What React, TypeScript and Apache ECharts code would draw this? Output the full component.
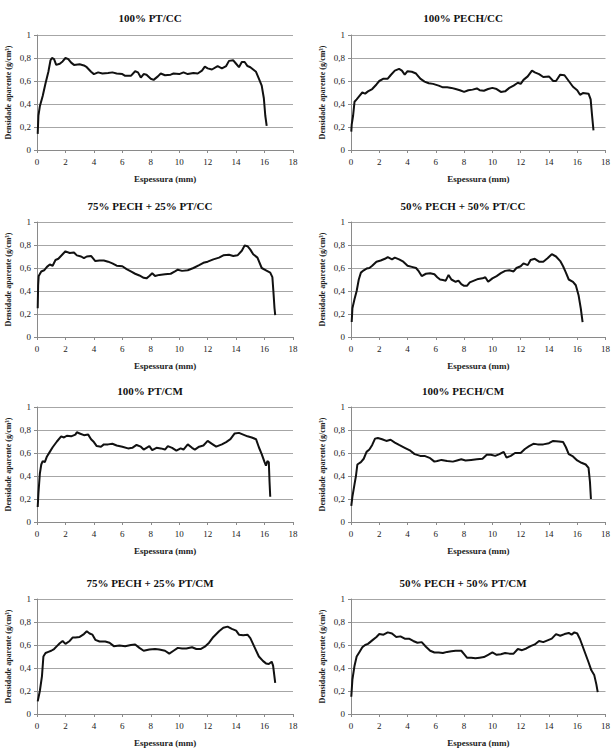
import React, { useEffect, useRef } from "react";
import * as echarts from "echarts";

const titles = [
  "100% PT/CC",
  "100% PECH/CC",
  "75% PECH + 25% PT/CC",
  "50% PECH + 50% PT/CC",
  "100% PT/CM",
  "100% PECH/CM",
  "75% PECH + 25% PT/CM",
  "50% PECH + 50% PT/CM",
];

const xTicks = [0, 2, 4, 6, 8, 10, 12, 14, 16, 18];
const yTicks = [0, 0.2, 0.4, 0.6, 0.8, 1];

const ptCC: number[][] = [
  [0.05, 0.14], [0.1, 0.3], [0.2, 0.38], [0.4, 0.47], [0.6, 0.58], [0.8, 0.68], [0.95, 0.78], [1.05, 0.8],
  [1.2, 0.79], [1.35, 0.74], [1.6, 0.75], [1.8, 0.77], [2.0, 0.8], [2.2, 0.79], [2.4, 0.76], [2.6, 0.74],
  [3.0, 0.745], [3.3, 0.735], [3.5, 0.72], [3.8, 0.68], [4.0, 0.66], [4.3, 0.675], [4.6, 0.665], [5.0, 0.67],
  [5.3, 0.675], [5.6, 0.665], [6.0, 0.66], [6.2, 0.645], [6.6, 0.645], [6.9, 0.685], [7.1, 0.675], [7.3, 0.63],
  [7.5, 0.66], [7.7, 0.655], [8.0, 0.62], [8.2, 0.61], [8.5, 0.64], [8.7, 0.665], [9.0, 0.65], [9.4, 0.655],
  [9.6, 0.665], [10.0, 0.66], [10.3, 0.675], [10.6, 0.66], [11.0, 0.67], [11.3, 0.665], [11.6, 0.69], [11.8, 0.725],
  [12.0, 0.71], [12.3, 0.7], [12.7, 0.73], [13.0, 0.71], [13.3, 0.73], [13.5, 0.775], [13.8, 0.78], [14.0, 0.75],
  [14.2, 0.72], [14.4, 0.765], [14.6, 0.765], [14.8, 0.73], [15.0, 0.72], [15.2, 0.7], [15.4, 0.68], [15.6, 0.62],
  [15.8, 0.56], [15.95, 0.45], [16.05, 0.3], [16.15, 0.21],
];

const pechCC: number[][] = [
  [0.02, 0.16], [0.05, 0.22], [0.15, 0.3], [0.25, 0.42], [0.4, 0.44], [0.6, 0.47], [0.8, 0.5], [1.0, 0.49],
  [1.2, 0.51], [1.5, 0.53], [1.8, 0.57], [2.0, 0.6], [2.3, 0.62], [2.6, 0.62], [2.8, 0.65], [3.1, 0.69],
  [3.4, 0.705], [3.6, 0.69], [3.8, 0.655], [4.0, 0.685], [4.3, 0.68], [4.6, 0.665], [4.9, 0.62], [5.2, 0.595],
  [5.5, 0.58], [5.8, 0.575], [6.2, 0.56], [6.5, 0.545], [6.8, 0.545], [7.1, 0.54], [7.4, 0.53], [7.7, 0.52],
  [8.0, 0.505], [8.3, 0.52], [8.6, 0.525], [8.9, 0.535], [9.1, 0.52], [9.4, 0.515], [9.7, 0.53], [10.0, 0.54],
  [10.3, 0.53], [10.6, 0.505], [10.9, 0.51], [11.2, 0.54], [11.5, 0.56], [11.8, 0.585], [12.0, 0.575], [12.2, 0.61],
  [12.5, 0.64], [12.8, 0.69], [13.0, 0.675], [13.3, 0.66], [13.6, 0.635], [14.0, 0.64], [14.3, 0.6], [14.5, 0.6],
  [14.8, 0.655], [15.1, 0.65], [15.4, 0.6], [15.7, 0.55], [16.0, 0.52], [16.2, 0.48], [16.4, 0.495], [16.8, 0.49],
  [16.95, 0.44], [17.05, 0.3], [17.15, 0.17],
];

const p75CC: number[][] = [
  [0.05, 0.25], [0.08, 0.45], [0.12, 0.53], [0.3, 0.57], [0.5, 0.58], [0.7, 0.61], [0.9, 0.63], [1.1, 0.62],
  [1.3, 0.67], [1.5, 0.68], [1.8, 0.72], [2.0, 0.745], [2.3, 0.73], [2.6, 0.735], [2.8, 0.71], [3.1, 0.7],
  [3.3, 0.685], [3.5, 0.7], [3.8, 0.705], [4.1, 0.66], [4.4, 0.665], [4.7, 0.665], [5.0, 0.655], [5.3, 0.64],
  [5.6, 0.62], [6.0, 0.615], [6.3, 0.59], [6.6, 0.57], [6.9, 0.55], [7.2, 0.535], [7.5, 0.515], [7.7, 0.51],
  [7.9, 0.53], [8.1, 0.555], [8.3, 0.53], [8.6, 0.54], [9.0, 0.545], [9.4, 0.55], [9.7, 0.57], [9.9, 0.585],
  [10.2, 0.575], [10.6, 0.58], [11.0, 0.6], [11.4, 0.625], [11.7, 0.645], [12.0, 0.655], [12.4, 0.675], [12.8, 0.69],
  [13.1, 0.71], [13.5, 0.715], [13.8, 0.705], [14.1, 0.71], [14.4, 0.75], [14.6, 0.795], [14.8, 0.79], [15.0, 0.76],
  [15.2, 0.72], [15.5, 0.69], [15.8, 0.6], [16.1, 0.58], [16.4, 0.56], [16.55, 0.52], [16.62, 0.4], [16.7, 0.25],
  [16.75, 0.19],
];

const p50CC: number[][] = [
  [0.05, 0.13], [0.1, 0.25], [0.25, 0.33], [0.4, 0.4], [0.55, 0.5], [0.7, 0.56], [0.9, 0.58], [1.1, 0.595],
  [1.3, 0.6], [1.5, 0.62], [1.8, 0.655], [2.1, 0.665], [2.4, 0.68], [2.6, 0.695], [2.9, 0.675], [3.1, 0.69],
  [3.4, 0.675], [3.7, 0.655], [4.0, 0.62], [4.3, 0.61], [4.6, 0.6], [4.8, 0.57], [5.0, 0.53], [5.3, 0.55],
  [5.6, 0.555], [5.9, 0.545], [6.1, 0.52], [6.3, 0.5], [6.5, 0.495], [6.7, 0.49], [6.9, 0.54], [7.1, 0.5],
  [7.4, 0.48], [7.6, 0.49], [7.8, 0.46], [8.0, 0.445], [8.2, 0.445], [8.4, 0.475], [8.7, 0.49], [9.0, 0.505],
  [9.3, 0.51], [9.5, 0.52], [9.7, 0.48], [10.0, 0.51], [10.3, 0.53], [10.6, 0.555], [10.9, 0.575], [11.2, 0.58],
  [11.5, 0.57], [11.7, 0.6], [12.0, 0.615], [12.2, 0.64], [12.5, 0.625], [12.7, 0.67], [13.0, 0.68], [13.3, 0.655],
  [13.6, 0.655], [13.9, 0.685], [14.2, 0.72], [14.5, 0.7], [14.8, 0.66], [15.0, 0.615], [15.2, 0.56], [15.4, 0.5],
  [15.7, 0.48], [15.9, 0.45], [16.1, 0.36], [16.25, 0.25], [16.38, 0.13],
];

const ptCM: number[][] = [
  [0.05, 0.13], [0.1, 0.25], [0.2, 0.42], [0.3, 0.5], [0.4, 0.53], [0.55, 0.52], [0.7, 0.57], [0.9, 0.61],
  [1.1, 0.65], [1.4, 0.7], [1.7, 0.745], [1.9, 0.735], [2.1, 0.75], [2.4, 0.745], [2.7, 0.76], [2.8, 0.78],
  [3.0, 0.77], [3.3, 0.755], [3.6, 0.76], [3.8, 0.72], [4.0, 0.695], [4.2, 0.66], [4.5, 0.655], [4.7, 0.675],
  [5.0, 0.675], [5.3, 0.68], [5.6, 0.665], [6.0, 0.655], [6.4, 0.64], [6.7, 0.645], [7.0, 0.67], [7.3, 0.655],
  [7.5, 0.63], [7.9, 0.66], [8.1, 0.625], [8.4, 0.645], [8.7, 0.64], [9.0, 0.63], [9.2, 0.66], [9.5, 0.645],
  [9.8, 0.62], [10.1, 0.64], [10.3, 0.63], [10.6, 0.675], [10.9, 0.645], [11.1, 0.63], [11.4, 0.655], [11.7, 0.665],
  [12.0, 0.705], [12.3, 0.68], [12.6, 0.655], [13.0, 0.675], [13.3, 0.695], [13.6, 0.72], [13.9, 0.77], [14.2, 0.775],
  [14.5, 0.76], [14.8, 0.745], [15.1, 0.735], [15.4, 0.72], [15.6, 0.65], [15.8, 0.59], [16.0, 0.52], [16.1, 0.49],
  [16.2, 0.53], [16.3, 0.52], [16.35, 0.35], [16.4, 0.22],
];

const pechCM: number[][] = [
  [0.02, 0.14], [0.1, 0.22], [0.25, 0.33], [0.35, 0.4], [0.45, 0.5], [0.7, 0.52], [0.9, 0.55], [1.1, 0.61],
  [1.3, 0.63], [1.5, 0.67], [1.7, 0.725], [1.9, 0.73], [2.2, 0.72], [2.5, 0.705], [2.8, 0.715], [3.1, 0.69],
  [3.4, 0.67], [3.8, 0.645], [4.2, 0.62], [4.5, 0.59], [4.9, 0.575], [5.2, 0.575], [5.6, 0.555], [5.9, 0.525],
  [6.1, 0.53], [6.4, 0.54], [6.8, 0.53], [7.2, 0.525], [7.5, 0.535], [7.8, 0.545], [8.1, 0.535], [8.5, 0.54],
  [8.9, 0.545], [9.3, 0.55], [9.6, 0.585], [9.9, 0.585], [10.2, 0.575], [10.5, 0.59], [10.8, 0.61], [11.0, 0.56],
  [11.3, 0.575], [11.6, 0.6], [12.0, 0.6], [12.3, 0.635], [12.6, 0.66], [12.9, 0.68], [13.2, 0.675], [13.6, 0.675],
  [14.0, 0.685], [14.3, 0.705], [14.7, 0.7], [15.0, 0.695], [15.2, 0.65], [15.4, 0.59], [15.7, 0.57], [16.0, 0.535],
  [16.3, 0.515], [16.6, 0.5], [16.8, 0.47], [16.9, 0.35], [16.97, 0.2],
];

const p75CM: number[][] = [
  [0.05, 0.11], [0.2, 0.2], [0.35, 0.33], [0.45, 0.5], [0.6, 0.53], [0.8, 0.54], [1.0, 0.55], [1.2, 0.565],
  [1.4, 0.59], [1.6, 0.615], [1.8, 0.635], [2.0, 0.61], [2.3, 0.635], [2.5, 0.665], [2.7, 0.665], [3.0, 0.67],
  [3.3, 0.695], [3.5, 0.72], [3.7, 0.7], [3.9, 0.69], [4.1, 0.645], [4.4, 0.63], [4.8, 0.63], [5.1, 0.62],
  [5.4, 0.59], [5.8, 0.595], [6.2, 0.59], [6.6, 0.6], [6.9, 0.605], [7.2, 0.575], [7.5, 0.55], [7.9, 0.56],
  [8.3, 0.565], [8.6, 0.56], [9.0, 0.55], [9.3, 0.525], [9.6, 0.55], [9.9, 0.575], [10.2, 0.57], [10.5, 0.57],
  [10.9, 0.58], [11.2, 0.565], [11.5, 0.565], [11.8, 0.585], [12.1, 0.62], [12.4, 0.67], [12.8, 0.72], [13.1, 0.75],
  [13.4, 0.76], [13.7, 0.74], [14.0, 0.725], [14.2, 0.69], [14.5, 0.685], [14.8, 0.69], [15.0, 0.66], [15.3, 0.58],
  [15.6, 0.5], [15.9, 0.46], [16.1, 0.44], [16.3, 0.435], [16.5, 0.455], [16.6, 0.42], [16.75, 0.27],
];

const p50CM: number[][] = [
  [0.02, 0.15], [0.1, 0.3], [0.25, 0.42], [0.4, 0.5], [0.6, 0.54], [0.8, 0.58], [1.0, 0.6], [1.2, 0.61],
  [1.5, 0.64], [1.8, 0.67], [2.0, 0.695], [2.3, 0.69], [2.6, 0.71], [2.9, 0.7], [3.2, 0.67], [3.5, 0.675],
  [3.8, 0.655], [4.1, 0.655], [4.4, 0.635], [4.7, 0.62], [5.0, 0.625], [5.3, 0.585], [5.6, 0.55], [5.9, 0.535],
  [6.2, 0.535], [6.5, 0.53], [6.8, 0.54], [7.1, 0.545], [7.4, 0.55], [7.8, 0.55], [8.0, 0.52], [8.2, 0.49],
  [8.5, 0.49], [8.8, 0.485], [9.1, 0.49], [9.4, 0.495], [9.7, 0.515], [10.0, 0.535], [10.3, 0.515], [10.6, 0.52],
  [10.9, 0.53], [11.2, 0.525], [11.5, 0.525], [11.8, 0.565], [12.1, 0.555], [12.4, 0.57], [12.7, 0.59], [13.0, 0.605],
  [13.3, 0.635], [13.6, 0.625], [13.9, 0.64], [14.2, 0.655], [14.5, 0.695], [14.8, 0.68], [15.1, 0.695], [15.4, 0.705],
  [15.6, 0.69], [15.8, 0.71], [16.0, 0.7], [16.2, 0.65], [16.5, 0.55], [16.8, 0.45], [17.0, 0.38], [17.2, 0.34],
  [17.35, 0.26], [17.45, 0.19],
];

const seriesData = [ptCC, pechCC, p75CC, p50CC, ptCM, pechCM, p75CM, p50CM];

const xName = "Espessura (mm)";
const yName = "Densidade aparente (g/cm³)";

const FONT = "'Liberation Serif', 'Times New Roman', serif";

const colLeft = [37, 351];
const colTitleX = [150, 463];
const rowTop = [35, 222, 407, 599];
const rowTitleY = [18, 206, 391, 583];
const gridW = 256;
const gridH = 115;

export default function App() {
  const ref = useRef<HTMLDivElement>(null);
  useEffect(() => {
    if (!ref.current) return;
    const chart = echarts.init(ref.current, undefined, { renderer: "svg" });
    const grids: any[] = [];
    const xAxes: any[] = [];
    const yAxes: any[] = [];
    const series: any[] = [];
    const graphics: any[] = [];
    seriesData.forEach((d, i) => {
      const col = i % 2;
      const row = Math.floor(i / 2);
      grids.push({ left: colLeft[col], top: rowTop[row], width: gridW, height: gridH, containLabel: false });
      xAxes.push({
        type: "value",
        gridIndex: i,
        min: xTicks[0],
        max: xTicks[xTicks.length - 1],
        interval: 2,
        name: xName,
        nameLocation: "middle",
        nameGap: 24,
        nameTextStyle: { fontFamily: FONT, fontWeight: "bold", fontSize: 9, color: "#222" },
        axisLine: { show: true, lineStyle: { color: "#8a8a8a", width: 1 } },
        axisTick: { show: true, length: 3, lineStyle: { color: "#8a8a8a" } },
        axisLabel: { fontFamily: FONT, fontSize: 9, color: "#222", margin: 7 },
        splitLine: { show: false },
      });
      yAxes.push({
        type: "value",
        gridIndex: i,
        min: yTicks[0],
        max: yTicks[yTicks.length - 1],
        interval: 0.2,
        name: yName,
        nameLocation: "middle",
        nameRotate: 90,
        nameGap: 25,
        nameTextStyle: { fontFamily: FONT, fontWeight: "bold", fontSize: 8, color: "#222" },
        axisLine: { show: true, lineStyle: { color: "#8a8a8a", width: 1 } },
        axisTick: { show: true, length: 3, lineStyle: { color: "#8a8a8a" } },
        axisLabel: {
          fontFamily: FONT,
          fontSize: 9,
          color: "#222",
          margin: 6,
          formatter: (v: number) => String(Math.round(v * 10) / 10).replace(".", ","),
        },
        splitLine: { show: true, lineStyle: { color: "#a6a6a6", width: 1 } },
      });
      series.push({
        type: "line",
        xAxisIndex: i,
        yAxisIndex: i,
        data: d,
        showSymbol: false,
        symbol: "none",
        lineStyle: { color: "#111", width: 2 },
      });
      graphics.push({
        type: "text",
        x: colTitleX[col],
        y: rowTitleY[row],
        style: {
          text: titles[i],
          fontFamily: FONT,
          fontWeight: "bold",
          fontSize: 11,
          fill: "#111",
          textAlign: "center",
          textVerticalAlign: "middle",
        },
      });
    });
    chart.setOption({
      animation: false,
      backgroundColor: "#ffffff",
      grid: grids,
      xAxis: xAxes,
      yAxis: yAxes,
      series,
      graphic: graphics,
    });
    return () => chart.dispose();
  }, []);
  return (
    <div
      ref={ref}
      style={{ position: "absolute", left: 0, top: 0, width: 613, height: 752 }}
    />
  );
}
